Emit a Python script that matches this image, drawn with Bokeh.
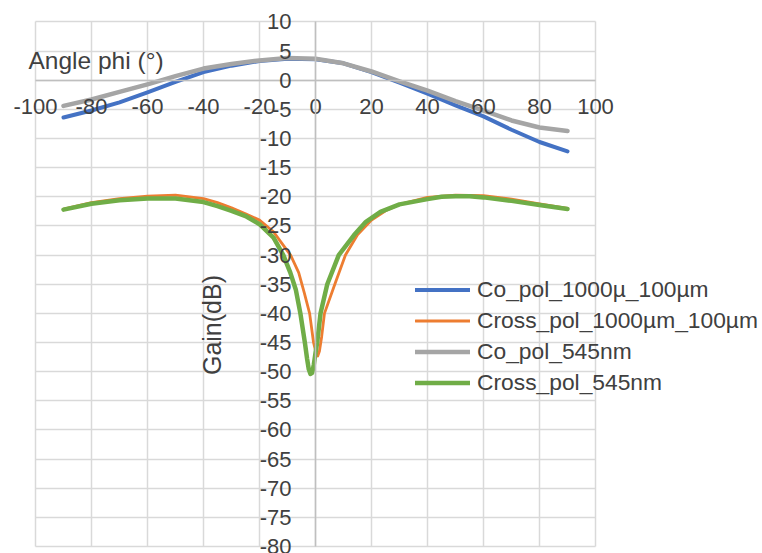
import math
from bokeh.plotting import figure
from bokeh.models import FixedTicker, Label, Legend, LegendItem
from bokeh.embed import file_html
from bokeh.resources import INLINE

# ---- data ----
co_1000_x = [-90, -80, -70, -60, -50, -40, -30, -20, -10, 0, 10, 20, 30, 40, 50, 60, 70, 80, 90]
co_1000_y = [-6.4, -5.2, -3.8, -2.1, -0.3, 1.4, 2.5, 3.3, 3.7, 3.6, 2.9, 1.4, -0.4, -2.3, -4.3, -6.2, -8.5, -10.6, -12.2]

co_545_x = [-90, -80, -70, -60, -50, -40, -30, -20, -10, 0, 10, 20, 30, 40, 50, 60, 70, 80, 90]
co_545_y = [-4.4, -3.3, -2.0, -0.7, 0.7, 2.0, 2.8, 3.4, 3.8, 3.7, 2.9, 1.5, -0.2, -1.8, -3.6, -5.2, -6.9, -8.1, -8.7]

cross_1000_x = [-90, -80, -70, -60, -50, -40, -35, -30, -25, -20, -15, -12, -8.9, -6, -4, -2.1, -0.7, 0.2, 0.8, 1.4, 2.2, 3.2, 6.9, 10.7, 15, 20, 25, 30, 40, 50, 60, 70, 80, 90]
cross_1000_y = [-22.1, -21.0, -20.3, -19.9, -19.7, -20.3, -21.0, -21.9, -22.9, -24.0, -26.0, -28.0, -30.0, -33.0, -36.5, -40.0, -45.0, -46.8, -47.3, -46.5, -44.0, -40.0, -35.0, -30.0, -26.5, -24.0, -22.4, -21.3, -20.1, -19.7, -19.8, -20.4, -21.2, -22.0]

cross_545_x = [-90, -80, -70, -60, -50, -40, -35, -30, -25, -20, -15, -11.5, -9, -7, -5.4, -3.8, -3.0, -2.4, -1.8, -1.2, -0.6, 0.0, 0.6, 1.8, 4.2, 8.3, 13.7, 18, 23.2, 30, 40, 45, 50, 55, 60, 70, 80, 90]
cross_545_y = [-22.2, -21.2, -20.6, -20.3, -20.3, -20.9, -21.6, -22.4, -23.3, -24.7, -27.0, -30.0, -33.0, -36.0, -40.0, -45.0, -47.8, -49.6, -50.4, -50.2, -48.8, -46.8, -45.0, -40.0, -35.0, -30.0, -26.6, -24.3, -22.6, -21.3, -20.4, -20.0, -19.9, -19.9, -20.1, -20.7, -21.4, -22.1]

series_names = ["Co_pol_1000\u00b5_100\u00b5m", "Cross_pol_1000\u00b5m_100\u00b5m", "Co_pol_545nm", "Cross_pol_545nm"]
series_colors = ["#4472C4", "#ED7D31", "#A5A5A5", "#70AD47"]

x_ticks = [-100, -80, -60, -40, -20, 0, 20, 40, 60, 80, 100]
y_ticks = list(range(-80, 11, 5))
x_bounds = (x_ticks[0], x_ticks[-1])
y_bounds = (y_ticks[0], y_ticks[-1])

FONT = "Liberation Sans"
FS = "22px"
TXT = "#404040"
GRID = "#D9D9D9"

W, H = 762, 553
p = figure(
    width=W, height=H,
    x_range=(-112.5, 159.64), y_range=(-81.2, 13.68),
    output_backend="svg", toolbar_location=None,
    min_border=0, min_border_left=0, min_border_right=0, min_border_top=0, min_border_bottom=0,
    title=None,
)
p.background_fill_color = "white"
p.border_fill_color = "white"
p.outline_line_color = None

p.xaxis.ticker = FixedTicker(ticks=x_ticks)
p.yaxis.ticker = FixedTicker(ticks=y_ticks)
p.xaxis.bounds = x_bounds
p.yaxis.bounds = y_bounds
p.xaxis.major_label_overrides = {t: str(t) for t in x_ticks}
p.yaxis.major_label_overrides = {t: str(t) for t in y_ticks}

p.xgrid.ticker = FixedTicker(ticks=x_ticks)
p.ygrid.ticker = FixedTicker(ticks=y_ticks)
p.xgrid.bounds = x_bounds
p.ygrid.bounds = y_bounds
p.xgrid.cross_bounds = y_bounds
p.ygrid.cross_bounds = x_bounds
for g in (p.xgrid, p.ygrid):
    g.grid_line_color = GRID
    g.grid_line_width = 1.5

for ax in (p.xaxis, p.yaxis):
    ax.fixed_location = 0
    ax.axis_line_color = "#BFBFBF"
    ax.axis_line_width = 1.5
    ax.major_tick_out = 0
    ax.major_tick_in = 0
    ax.minor_tick_out = 0
    ax.minor_tick_in = 0
    ax.major_label_text_font = FONT
    ax.major_label_text_font_size = FS
    ax.major_label_text_color = TXT
p.xaxis.major_label_standoff = 19
p.yaxis.major_label_standoff = 24

r_blue = p.line(co_1000_x, co_1000_y, color=series_colors[0], line_width=4, line_cap="round", line_join="round")
r_orange = p.line(cross_1000_x, cross_1000_y, color=series_colors[1], line_width=2.8, line_cap="round", line_join="round")
r_gray = p.line(co_545_x, co_545_y, color=series_colors[2], line_width=4.5, line_cap="round", line_join="round")
r_green = p.line(cross_545_x, cross_545_y, color=series_colors[3], line_width=4.5, line_cap="round", line_join="round")

legend = Legend(
    items=[LegendItem(label=n, renderers=[r]) for n, r in zip(series_names, [r_blue, r_orange, r_gray, r_green])],
    location=(415, 155),
    label_text_font=FONT, label_text_font_size="22.8px", label_text_color=TXT,
    glyph_width=55, glyph_height=31, label_height=31, spacing=0,
    padding=0, margin=0, label_standoff=7,
    border_line_alpha=0, background_fill_alpha=0,
)
p.add_layout(legend, "center")

p.add_layout(Label(x=-102.5, y=3.4, text="Angle phi (\u00b0)", text_font=FONT, text_font_size="24.5px",
                   text_color=TXT, text_align="left", text_baseline="middle"))
p.add_layout(Label(x=-37.1, y=-42.0, text="Gain(dB)", text_font=FONT, text_font_size="25px",
                   text_color=TXT, text_align="center", text_baseline="middle", angle=math.pi / 2))

open("out.html", "w").write(file_html(p, INLINE))
